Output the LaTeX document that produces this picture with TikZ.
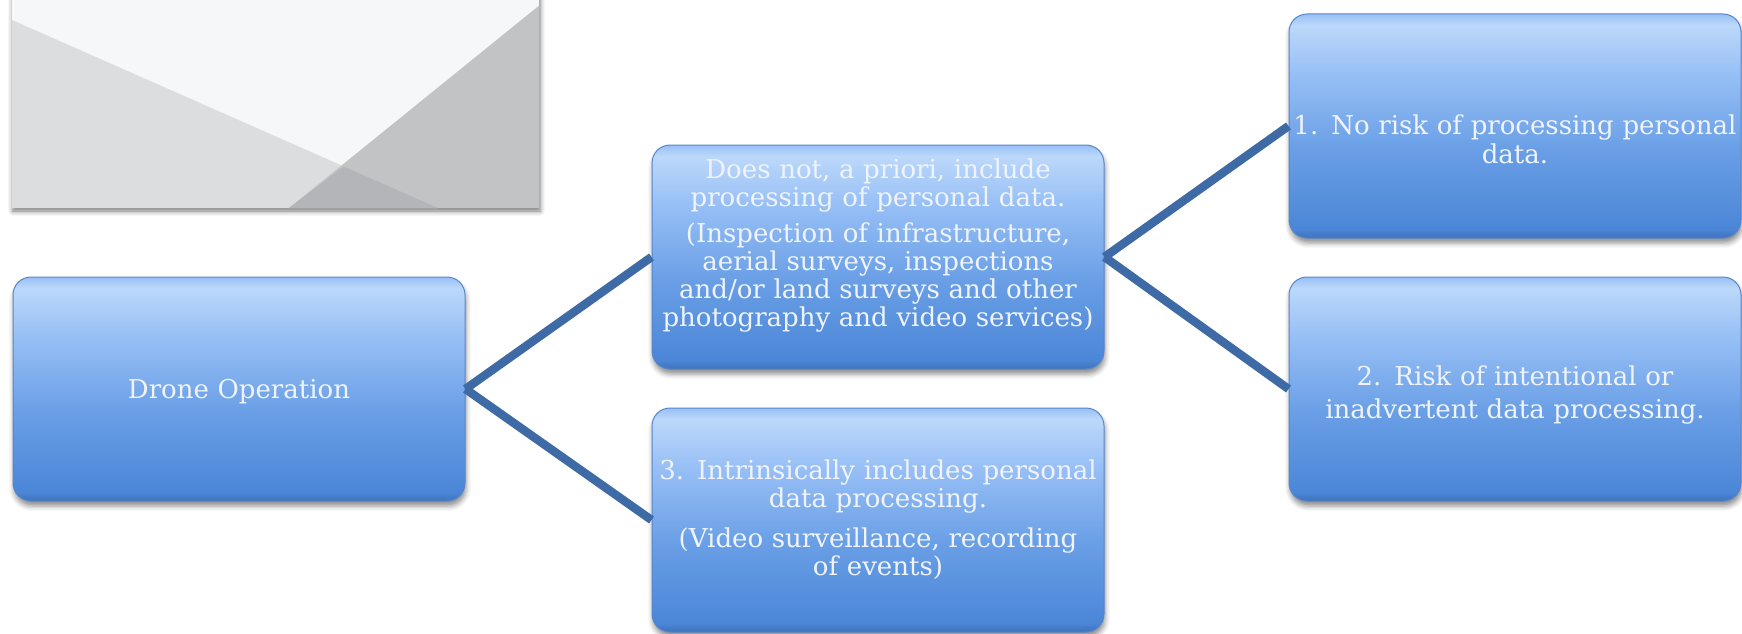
\documentclass[tikz,border=0pt]{standalone}
\usepackage{fontspec}
\setmainfont{DejaVu Serif}
\usetikzlibrary{shadows.blur}

\definecolor{boxlow}{HTML}{3F72BC}
\definecolor{boxbot}{HTML}{4B86D7}
\definecolor{boxmid}{HTML}{6A9FE6}
\definecolor{boxtop}{HTML}{98C0F6}
\definecolor{boxshine}{HTML}{BCD8FA}
\definecolor{boxedge}{HTML}{5786CA}
\definecolor{boxtext}{HTML}{F0F4FA}
\definecolor{linkblue}{HTML}{3E6BA6}
\definecolor{panelbg}{HTML}{F6F7F9}
\definecolor{panelA}{HTML}{DCDDDF}
\definecolor{panelB}{HTML}{C1C3C5}
\definecolor{panelC}{HTML}{B3B5B8}

\pgfdeclareverticalshading{boxfill}{100bp}{color(0bp)=(boxlow); color(25bp)=(boxlow);
  color(27bp)=(boxbot); color(45bp)=(boxmid); color(62bp)=(boxtop);
  color(72.5bp)=(boxshine); color(75bp)=(boxtop); color(100bp)=(boxtop)}

\begin{document}
\begin{tikzpicture}[x=1pt,y=1pt,
    box/.style={rectangle,rounded corners=18pt,draw=boxedge,line width=1pt,
      shade,shading=boxfill,text=boxtext,align=center,
      text width=452pt,inner xsep=0pt,inner ysep=0pt,minimum height=224pt,
      font=\fontsize{26}{31}\selectfont,
      blur shadow={shadow xshift=1pt,shadow yshift=-5pt,shadow blur radius=5pt,shadow opacity=45}},
    tight/.style={font=\fontsize{26}{28}\selectfont},
    link/.style={draw=linkblue,line width=8.5pt}]
  \useasboundingbox (0,0) rectangle (1742,-634);

  % grey panel, top left
  \fill[panelbg,blur shadow={shadow xshift=1pt,shadow yshift=-3pt,shadow blur radius=5pt,shadow opacity=55}]
    (12,12) rectangle (539,-208);
  \begin{scope}
    \clip (12,12) rectangle (539,-208);
    \fill[panelA] (12,-20) -- (438,-208) -- (12,-208) -- cycle;
    \fill[panelB] (546,0) -- (289,-208) -- (539,-208) -- (539,0) -- cycle;
    \fill[panelC] (343.6,-166.5) -- (438,-208) -- (289,-208) -- cycle;
  \end{scope}

  \node[box] (drone) at (239,-389) {Drone Operation\par\vspace*{-8pt}};
  \node[box,tight] (nopriori) at (878,-257)
    {Does not, a priori, include\\processing of personal data.\\[8pt]
     (Inspection of infrastructure,\\aerial surveys, inspections\\
     and/or land surveys and other\\photography and video services)\par\vspace*{22pt}};
  \node[box,tight] (intrinsic) at (878,-520)
    {3. Intrinsically includes personal\\data processing.\\[12pt]
     (Video surveillance, recording\\of events)};
  \node[box,font=\fontsize{26}{29}\selectfont] (norisk) at (1515,-126)
    {1. No risk of processing personal\\data.\par\vspace*{-26pt}};
  \node[box,font=\fontsize{26}{33}\selectfont] (inadvert) at (1515,-389)
    {2. Risk of intentional or\\inadvertent data processing.\par\vspace*{-12pt}};

  \foreach \from/\to in {drone/nopriori,drone/intrinsic,nopriori/norisk,nopriori/inadvert}
    \draw[link] (\from.east) -- (\to.west);
\end{tikzpicture}
\end{document}
